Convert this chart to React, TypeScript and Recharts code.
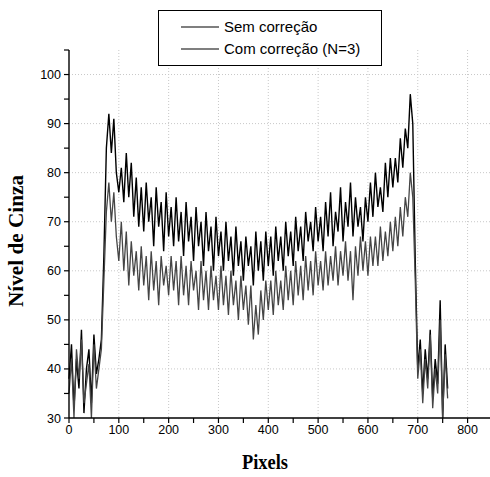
import { LineChart, Line, XAxis, YAxis, CartesianGrid } from "recharts";

// one sample every 5 pixels along the profile
const STEP = 5;

const semCorrecao = [
  38, 45, 32, 42, 36, 48, 31, 40, 44, 33,
  47, 39, 42, 46, 63, 85, 92, 84, 91, 80,
  76, 81, 74, 84, 75, 82, 71, 79, 69, 77,
  68, 78, 70, 75, 65, 77, 69, 74, 64, 76,
  67, 73, 65, 75, 66, 72, 63, 74, 66, 71,
  62, 73, 65, 70, 61, 72, 64, 69, 60, 71,
  63, 68, 60, 70, 62, 67, 59, 69, 61, 66,
  58, 67, 61, 65, 57, 68, 60, 66, 58, 68,
  61, 67, 59, 69, 62, 67, 60, 70, 63, 68,
  61, 71, 64, 69, 62, 72, 66, 70, 64, 73,
  66, 71, 64, 74, 67, 76, 65, 72, 68, 77,
  66, 74, 69, 78, 67, 75, 69, 73, 66, 75,
  70, 78, 71, 80, 73, 77, 72, 82, 75, 83,
  77, 83, 78, 87, 81, 89, 85, 96, 90, 62,
  40, 46, 35, 44, 38, 48, 34, 42, 37, 54,
  30, 45, 36,
];

const comCorrecao = [
  35, 42, 30, 44, 38, 46, 33, 37, 41, 30,
  45, 36, 40, 44, 58, 72, 78, 70, 76, 67,
  62, 70, 60, 68, 57, 66, 59, 64, 56, 65,
  57, 63, 54, 64, 56, 62, 53, 63, 57, 61,
  55, 63, 56, 62, 53, 63, 55, 61, 53, 62,
  56, 60, 52, 62, 54, 60, 52, 61, 54, 59,
  52, 61, 53, 59, 51, 60, 53, 58, 50, 59,
  52, 57, 49, 57, 46, 53, 47, 56, 50, 58,
  52, 58, 51, 60, 53, 58, 52, 61, 54, 60,
  53, 62, 55, 61, 54, 63, 56, 62, 55, 64,
  57, 62, 56, 64, 57, 63, 58, 65, 57, 64,
  59, 66, 58, 64, 54, 65, 59, 67, 60, 66,
  59, 67, 61, 67, 61, 69, 62, 68, 63, 70,
  64, 71, 65, 73, 67, 75, 71, 80, 75, 58,
  38, 44, 33, 42, 36, 47, 32, 40, 35, 50,
  30, 43, 34,
];

const xTicks = [0, 50, 100, 150, 200, 250, 300, 350, 400, 450, 500, 550, 600, 650, 700, 750, 800];
const yTicks = [30, 35, 40, 45, 50, 55, 60, 65, 70, 75, 80, 85, 90, 95, 100, 105];
const xGrid = [100, 200, 300, 400, 500, 600, 700, 800];
const yGrid = [40, 50, 60, 70, 80, 90, 100];

const series = [
  { key: "sem", label: "Sem correção", color: "#000000", width: 1.4 },
  { key: "com", label: "Com correção (N=3)", color: "#454545", width: 1.3 },
];

const data = semCorrecao.map((v, i) => ({
  pixel: i * STEP,
  sem: v,
  com: comCorrecao[i],
}));

const tickFont = "'Liberation Sans', Arial, sans-serif";
const titleFont = "'Liberation Serif', 'Times New Roman', serif";

function XTick({ x, y, payload }: any) {
  const major = payload.value % 100 === 0;
  return (
    <g>
      <line x1={x} x2={x} y1={y} y2={y + 5} stroke="#000" strokeWidth={1.2} />
      {major && (
        <text x={x} y={y + 16} textAnchor="middle" fontSize={12.5} fontFamily={tickFont} fill="#000">
          {payload.value}
        </text>
      )}
    </g>
  );
}

function YTick({ x, y, payload }: any) {
  const major = payload.value % 10 === 0 && payload.value <= 100;
  return (
    <g>
      <line x1={x - 5} x2={x} y1={y} y2={y} stroke="#000" strokeWidth={1.2} />
      {major && (
        <text x={x - 8} y={y + 4.5} textAnchor="end" fontSize={12.5} fontFamily={tickFont} fill="#000">
          {payload.value}
        </text>
      )}
    </g>
  );
}

function LegendBox() {
  return (
    <div
      style={{
        position: "absolute",
        left: 158,
        top: 10,
        width: 222,
        height: 54,
        border: "1.3px solid #000",
        background: "#fff",
        fontFamily: tickFont,
        fontSize: 15,
      }}
    >
      {series.map((s, i) => (
        <div
          key={s.key}
          style={{ position: "absolute", left: 22, top: 7 + i * 22, display: "flex", alignItems: "center", whiteSpace: "nowrap" }}
        >
          <svg width={38} height={4} style={{ marginRight: 5 }}>
            <line x1={0} x2={38} y1={2} y2={2} stroke="#000" strokeWidth={1.2} />
          </svg>
          <span style={{ lineHeight: "18px" }}>{s.label}</span>
        </div>
      ))}
    </div>
  );
}

export default function App() {
  return (
    <div style={{ position: "absolute", left: 0, top: 0, width: 490, height: 477, background: "#fff" }}>
      <LineChart width={490} height={477} data={data} margin={{ top: 50, right: 0, bottom: 0, left: 0 }}>
        <CartesianGrid
          stroke="#c8c8c8"
          strokeDasharray="1 2"
          horizontalValues={yGrid}
          verticalValues={xGrid}
        />
        <XAxis
          dataKey="pixel"
          type="number"
          domain={[0, 845]}
          ticks={xTicks}
          interval={0}
          height={59}
          tickSize={0}
          tickMargin={0}
          tickLine={false}
          axisLine={{ stroke: "#000", strokeWidth: 1.4 }}
          tick={<XTick />}
          label={({ viewBox }: any) => (
            <text
              x={265}
              y={viewBox.y + 51}
              textAnchor="middle"
              fontSize={20}
              fontWeight="bold"
              fontFamily={titleFont}
              textLength={46}
              lengthAdjust="spacingAndGlyphs"
            >
              Pixels
            </text>
          )}
        />
        <YAxis
          type="number"
          domain={[30, 105]}
          ticks={yTicks}
          interval={0}
          width={69}
          tickSize={0}
          tickMargin={0}
          tickLine={false}
          axisLine={{ stroke: "#000", strokeWidth: 1.4 }}
          tick={<YTick />}
          allowDataOverflow
          label={() => (
            <text
              x={23}
              y={241}
              transform="rotate(-90, 23, 241)"
              textAnchor="middle"
              fontSize={20}
              fontWeight="bold"
              fontFamily={titleFont}
              textLength={132}
              lengthAdjust="spacingAndGlyphs"
            >
              Nível de Cinza
            </text>
          )}
        />
        {series.map((s) => (
          <Line
            key={s.key}
            dataKey={s.key}
            name={s.label}
            stroke={s.color}
            strokeWidth={s.width}
            dot={false}
            type="linear"
            isAnimationActive={false}
          />
        ))}
      </LineChart>
      <LegendBox />
    </div>
  );
}
